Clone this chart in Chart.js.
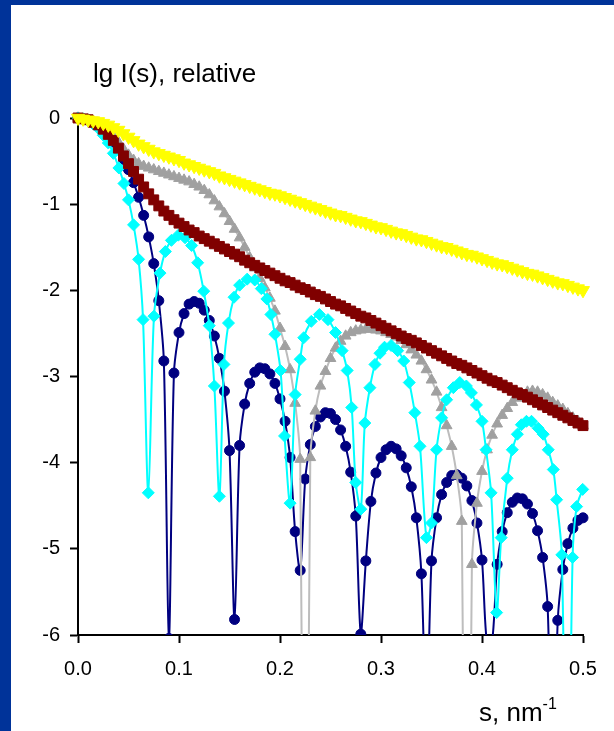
<!DOCTYPE html>
<html>
<head>
<meta charset="utf-8">
<script src="https://cdn.jsdelivr.net/npm/chart.js@4.4.0/dist/chart.umd.min.js"></script>
<style>
  html, body { margin: 0; padding: 0; }
  body {
    width: 614px; height: 731px; overflow: hidden; position: relative;
    background: #003399;
    font-family: "Liberation Sans", Arial, sans-serif;
  }
  #panel { position: absolute; left: 11px; top: 5px; width: 603px; height: 726px; background: #fff; }
  #wrap { position: absolute; left: 0; top: 0; width: 614px; height: 731px; }
  .title { position: absolute; color: #000; white-space: nowrap; line-height: 1; }
  .title sup { font-size: 16px; position: relative; top: -2px; }
</style>
</head>
<body>
<div id="panel"></div>
<div id="wrap"><canvas id="chart" width="614" height="731"></canvas></div>
<div class="title" style="left:93px; top:60px; font-size:26px;">lg I(s), relative</div>
<div class="title" style="left:479px; top:698px; font-size:26px;">s, nm<sup>-1</sup></div>

<script>
// s grid shared by the navy, gray, red and yellow curves
const s = [
  0, 0.005, 0.01, 0.015, 0.02, 0.025, 0.03, 0.035, 0.04, 0.045,
  0.05, 0.055, 0.06, 0.065, 0.07, 0.075, 0.08, 0.085, 0.09, 0.095,
  0.1, 0.105, 0.11, 0.115, 0.12, 0.125, 0.13, 0.135, 0.14, 0.145,
  0.15, 0.155, 0.16, 0.165, 0.17, 0.175, 0.18, 0.185, 0.19, 0.195,
  0.2, 0.205, 0.21, 0.215, 0.22, 0.225, 0.23, 0.235, 0.24, 0.245,
  0.25, 0.255, 0.26, 0.265, 0.27, 0.275, 0.28, 0.285, 0.29, 0.295,
  0.3, 0.305, 0.31, 0.315, 0.32, 0.325, 0.33, 0.335, 0.34, 0.345,
  0.35, 0.355, 0.36, 0.365, 0.37, 0.375, 0.38, 0.385, 0.39, 0.395,
  0.4, 0.405, 0.41, 0.415, 0.42, 0.425, 0.43, 0.435, 0.44, 0.445,
  0.45, 0.455, 0.46, 0.465, 0.47, 0.475, 0.48, 0.485, 0.49, 0.495,
  0.5
];

const navy = [
  0, -0.01, -0.02, -0.05, -0.09, -0.14, -0.20, -0.28, -0.37, -0.48,
  -0.60, -0.75, -0.92, -1.13, -1.38, -1.69, -2.12, -2.82, -6.04, -2.96,
  -2.49, -2.27, -2.16, -2.13, -2.15, -2.23, -2.35, -2.53, -2.79, -3.17,
  -3.86, -5.82, -3.80, -3.32, -3.08, -2.95, -2.90, -2.91, -2.97, -3.08,
  -3.26, -3.52, -3.94, -4.80, -5.25, -4.19, -3.79, -3.58, -3.47, -3.42,
  -3.43, -3.50, -3.62, -3.81, -4.11, -4.62, -5.99, -5.14, -4.45, -4.12,
  -3.94, -3.85, -3.81, -3.84, -3.92, -4.06, -4.28, -4.64, -5.29, -7.04,
  -5.14, -4.64, -4.37, -4.23, -4.15, -4.14, -4.18, -4.27, -4.44, -4.70,
  -5.13, -6.11, -6.08, -5.18, -4.80, -4.58, -4.46, -4.41, -4.42, -4.48,
  -4.59, -4.79, -5.10, -5.67, -7.99, -5.83, -5.24, -4.94, -4.76, -4.67,
  -4.64
];

const gray = [
  0, -0.01, -0.02, -0.04, -0.07, -0.10, -0.15, -0.21, -0.28, -0.36,
  -0.43, -0.49, -0.53, -0.56, -0.58, -0.60, -0.62, -0.64, -0.66, -0.68,
  -0.70, -0.72, -0.74, -0.77, -0.80, -0.84, -0.89, -0.96, -1.03, -1.11,
  -1.20, -1.29, -1.39, -1.50, -1.62, -1.74, -1.86, -1.97, -2.09, -2.24,
  -2.44, -2.65, -2.92, -3.31, -3.96, -12, -3.94, -3.40, -3.11, -2.94,
  -2.79, -2.67, -2.59, -2.53, -2.49, -2.47, -2.46, -2.45, -2.45, -2.46,
  -2.47, -2.49, -2.51, -2.54, -2.58, -2.63, -2.69, -2.75, -2.82, -2.92,
  -3.04, -3.18, -3.36, -3.57, -3.81, -4.15, -4.68, -12, -5.18, -4.47,
  -4.10, -3.85, -3.68, -3.55, -3.45, -3.37, -3.30, -3.25, -3.21, -3.18,
  -3.17, -3.18, -3.21, -3.25, -3.30, -3.34, -3.38, -3.43, -3.48, -3.52,
  -3.57
];

const red = [
  0, -0.01, -0.02, -0.05, -0.08, -0.13, -0.19, -0.26, -0.35, -0.44,
  -0.53, -0.62, -0.71, -0.80, -0.88, -0.95, -1.02, -1.08, -1.13, -1.18,
  -1.22, -1.26, -1.30, -1.33, -1.37, -1.40, -1.43, -1.46, -1.49, -1.52,
  -1.55, -1.58, -1.61, -1.65, -1.68, -1.71, -1.74, -1.77, -1.80, -1.83,
  -1.86, -1.89, -1.91, -1.94, -1.97, -1.99, -2.02, -2.05, -2.07, -2.10,
  -2.13, -2.16, -2.18, -2.21, -2.24, -2.27, -2.30, -2.32, -2.35, -2.38,
  -2.41, -2.44, -2.47, -2.50, -2.53, -2.56, -2.58, -2.61, -2.64, -2.67,
  -2.70, -2.73, -2.76, -2.79, -2.82, -2.85, -2.87, -2.90, -2.93, -2.96,
  -2.99, -3.02, -3.05, -3.07, -3.10, -3.13, -3.16, -3.19, -3.21, -3.24,
  -3.27, -3.30, -3.33, -3.36, -3.39, -3.42, -3.45, -3.48, -3.51, -3.54,
  -3.57
];

const yellow = [
  0, -0.01, -0.02, -0.03, -0.04, -0.06, -0.08, -0.11, -0.14, -0.18,
  -0.22, -0.26, -0.30, -0.33, -0.36, -0.39, -0.41, -0.43, -0.45, -0.47,
  -0.49, -0.52, -0.54, -0.56, -0.58, -0.60, -0.62, -0.64, -0.67, -0.69,
  -0.71, -0.73, -0.75, -0.77, -0.79, -0.81, -0.83, -0.85, -0.87, -0.88,
  -0.90, -0.92, -0.94, -0.96, -0.98, -1.00, -1.02, -1.04, -1.06, -1.08,
  -1.10, -1.12, -1.13, -1.15, -1.17, -1.19, -1.20, -1.22, -1.24, -1.26,
  -1.27, -1.29, -1.31, -1.33, -1.34, -1.36, -1.38, -1.40, -1.41, -1.43,
  -1.45, -1.47, -1.49, -1.50, -1.52, -1.54, -1.56, -1.58, -1.59, -1.61,
  -1.63, -1.65, -1.67, -1.69, -1.70, -1.72, -1.74, -1.76, -1.78, -1.80,
  -1.81, -1.83, -1.85, -1.87, -1.89, -1.91, -1.92, -1.94, -1.96, -1.98,
  -2.00
];

// cyan curve has its own, uneven s sampling
const cyanS = [
  0, 0.005, 0.01, 0.015, 0.02, 0.025, 0.03, 0.035, 0.0405, 0.0455, 0.05, 0.055, 0.06, 0.0644, 0.0696,
  0.0752, 0.0812, 0.0865, 0.0925, 0.0993, 0.106, 0.1125, 0.1185, 0.1245, 0.13, 0.135, 0.14,
  0.1445, 0.149, 0.1545, 0.16, 0.1675, 0.175, 0.1815, 0.187, 0.191, 0.195, 0.2005, 0.2045, 0.21,
  0.215, 0.22, 0.2235, 0.231, 0.239, 0.2475, 0.255, 0.2615, 0.2665, 0.271, 0.275, 0.28,
  0.284, 0.289, 0.294, 0.299, 0.3035, 0.31, 0.3165, 0.3225, 0.328, 0.3335, 0.3386, 0.345,
  0.35, 0.355, 0.36, 0.365, 0.3716, 0.378, 0.3845, 0.3895, 0.3945, 0.40, 0.404, 0.409, 0.4145,
  0.419, 0.425, 0.43, 0.435, 0.439, 0.444, 0.449, 0.4556, 0.4606, 0.4656, 0.4706, 0.4739, 0.479, 0.4845, 0.4897, 0.4937, 0.4997
];
const cyan = [
  0, -0.01, -0.03, -0.07, -0.12, -0.20, -0.29, -0.41, -0.58, -0.76, -0.95, -1.24, -1.64, -2.34, -4.35,
  -2.30, -1.80, -1.55, -1.42, -1.36, -1.39, -1.48, -1.68, -2.01, -2.41, -3.11, -4.39,
  -2.86, -2.38, -2.08, -1.94, -1.87, -1.88, -1.98, -2.10, -2.28, -2.51, -2.93, -3.69, -4.47,
  -3.21, -2.80, -2.55, -2.36, -2.28, -2.34, -2.49, -2.70, -2.93, -3.36, -4.23, -4.54,
  -3.54, -3.13, -2.86, -2.73, -2.66, -2.64, -2.70, -2.82, -3.07, -3.42, -3.81, -4.87,
  -4.70, -3.85, -3.48, -3.27, -3.13, -3.07, -3.11, -3.19, -3.33, -3.52, -3.85, -4.35, -5.74,
  -4.87, -4.18, -3.85, -3.67, -3.56, -3.52, -3.52, -3.60, -3.67, -3.85, -4.08, -4.43, -5.07, -9, -5.10, -4.51, -4.31
];

const xTicks = [0, 0.1, 0.2, 0.3, 0.4, 0.5];
const yTicks = [0, -1, -2, -3, -4, -5, -6];

const FONT = '"Liberation Sans", Arial, sans-serif';
const toPoints = (xs, ys) => xs.map((x, i) => ({ x: x, y: ys[i] }));

const curve = (xs, ys, line, fill, style, radius, order, rotation) => ({
  data: toPoints(xs, ys),
  borderColor: line,
  borderWidth: 2,
  backgroundColor: fill,
  pointBackgroundColor: fill,
  pointBorderColor: fill,
  pointBorderWidth: 1,
  pointStyle: style,
  pointRadius: radius,
  pointRotation: rotation || 0,
  tension: 0.3,
  fill: false,
  order: order,
  clip: { left: 8, top: 8, right: 8, bottom: 0 }
});

const axisGrid = { drawOnChartArea: false, drawTicks: true, tickLength: 8, tickWidth: 2, color: '#000' };

new Chart(document.getElementById('chart'), {
  type: 'line',
  data: {
    datasets: [
      curve(s, yellow, '#ffff00', '#ffff00', 'triangle', 7.5, 0, 180),
      curve(s, red, '#800000', '#800000', 'rect', 7, 1),
      curve(cyanS, cyan, '#00ffff', '#00ffff', 'rectRot', 6, 2),
      curve(s, gray, '#bdbdbd', '#a0a0a0', 'triangle', 6.2, 3),
      curve(s, navy, '#000080', '#000080', 'circle', 5, 4)
    ]
  },
  options: {
    responsive: false,
    animation: false,
    events: [],
    layout: { padding: { left: 0, top: 118, right: 31, bottom: 0 } },
    plugins: { legend: { display: false }, tooltip: { enabled: false } },
    scales: {
      x: {
        type: 'linear',
        min: 0,
        max: 0.5,
        afterFit: (scale) => { scale.height = 96; },
        afterBuildTicks: (scale) => { scale.ticks = xTicks.map(v => ({ value: v })); },
        ticks: {
          callback: (v) => v.toFixed(1),
          color: '#000',
          font: { family: FONT, size: 20 },
          padding: 14,
          maxRotation: 0,
          autoSkip: false
        },
        grid: axisGrid,
        border: { display: true, color: '#000', width: 2 }
      },
      y: {
        min: -6,
        max: 0,
        afterFit: (scale) => { scale.width = 78; },
        afterBuildTicks: (scale) => { scale.ticks = yTicks.map(v => ({ value: v })); },
        ticks: {
          callback: (v) => String(v),
          color: '#000',
          font: { family: FONT, size: 20 },
          padding: 10,
          autoSkip: false
        },
        grid: axisGrid,
        border: { display: true, color: '#000', width: 2 }
      }
    }
  }
});
</script>
</body>
</html>
